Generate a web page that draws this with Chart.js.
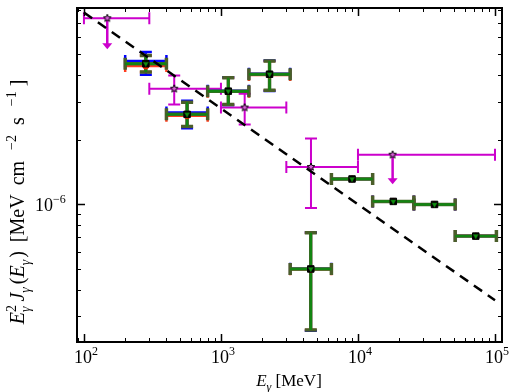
<!DOCTYPE html>
<html>
<head>
<meta charset="utf-8">
<script src="https://cdn.jsdelivr.net/npm/chart.js@4.4.0/dist/chart.umd.min.js"></script>
<style>
    body { margin: 0; background: #fff; }
    canvas { display: block; }
</style>
</head>
<body>
<canvas id="myChart" width="510" height="392"></canvas>
<script>
// energy bins [MeV]
const binLow = [200, 400, 800, 1600, 3200, 6400, 12800, 25600, 51200];
const binHigh = [400, 800, 1600, 3200, 6400, 12800, 25600, 51200, 102400];
const binCenter = [283, 566, 1131, 2263, 4525, 9051, 18102, 36204, 72408];

// square points, three overlapping analyses
const fluxGreen = [4.51e-6, 2.62e-6, 3.36e-6, 4.03e-6, 4.99e-7, 1.31e-6, 1.03e-6, 0.997e-6, 7.1e-7];
const fluxGreenLow = [4.13e-6, 2.30e-6, 2.91e-6, 3.39e-6, 2.59e-7, 1.31e-6, 1.03e-6, 0.997e-6, 7.1e-7];
const fluxGreenHigh = [4.93e-6, 2.98e-6, 3.88e-6, 4.65e-6, 7.36e-7, 1.31e-6, 1.03e-6, 0.997e-6, 7.1e-7];
const fluxBlue = [4.65e-6, 2.67e-6, 3.38e-6, 4.05e-6, 5.0e-7, 1.31e-6, 1.03e-6, 0.997e-6, 7.1e-7];
const fluxBlueLow = [4.01e-6, 2.26e-6, 2.90e-6, 3.37e-6, 2.57e-7, 1.31e-6, 1.03e-6, 0.997e-6, 7.1e-7];
const fluxBlueHigh = [5.11e-6, 3.03e-6, 3.90e-6, 4.67e-6, 7.38e-7, 1.31e-6, 1.03e-6, 0.997e-6, 7.1e-7];
const fluxRed = [4.40e-6, 2.58e-6, 3.34e-6, 4.0e-6, 4.97e-7, 1.31e-6, 1.03e-6, 0.997e-6, 7.1e-7];

// star points (magenta), two of them upper limits
const starE = [148, 456, 1490, 4540, 17900];
const starELow = [100, 300, 1000, 3000, 10000];
const starEHigh = [300, 1000, 3000, 10000, 100000];
const starFlux = [7.35e-6, 3.45e-6, 2.82e-6, 1.49e-6, 1.70e-6];
const starFluxLow = [null, 2.91e-6, 2.35e-6, 9.61e-7, null];
const starFluxHigh = [null, 3.98e-6, 3.27e-6, 2.02e-6, null];
const starArrowTo = [5.33e-6, null, null, null, 1.25e-6];

// dashed power law
const lineE = [100, 100000];
const lineFlux = [7.82e-6, 3.57e-7];

const FONT = '"Liberation Serif", "DejaVu Serif", serif';
const MAGENTA = '#cc00cc';

function makeStar(r) {
    const s = Math.ceil(r * 2 + 4);
    const c = document.createElement('canvas');
    c.width = s; c.height = s;
    const g = c.getContext('2d');
    g.beginPath();
    for (let k = 0; k < 10; k++) {
        const a = -Math.PI / 2 + k * Math.PI / 5;
        const rr = k % 2 ? r * 0.45 : r;
        g.lineTo(s / 2 + rr * Math.cos(a), s / 2 + rr * Math.sin(a));
    }
    g.closePath();
    g.fillStyle = '#d860d8';
    g.fill();
    g.strokeStyle = '#000';
    g.lineWidth = 1;
    g.stroke();
    return c;
}

function pts(xs, ys) {
    return xs.map((x, i) => ({x: x, y: ys[i]}));
}

function errBars(chart, xs, ys, xlo, xhi, ylo, yhi, color, lw, cap) {
    const ctx = chart.ctx, sx = chart.scales.x, sy = chart.scales.y;
    ctx.save();
    ctx.strokeStyle = color;
    ctx.lineWidth = lw;
    for (let i = 0; i < xs.length; i++) {
        const px = sx.getPixelForValue(xs[i]);
        const py = sy.getPixelForValue(ys[i]);
        ctx.beginPath();
        if (xlo && xlo[i] != null) {
            const x1 = sx.getPixelForValue(xlo[i]), x2 = sx.getPixelForValue(xhi[i]);
            ctx.moveTo(x1, py); ctx.lineTo(x2, py);
            if (cap) {
                ctx.moveTo(x1, py - cap); ctx.lineTo(x1, py + cap);
                ctx.moveTo(x2, py - cap); ctx.lineTo(x2, py + cap);
            }
        }
        if (ylo && ylo[i] != null && ylo[i] !== yhi[i]) {
            const y1 = sy.getPixelForValue(ylo[i]), y2 = sy.getPixelForValue(yhi[i]);
            ctx.moveTo(px, y1); ctx.lineTo(px, y2);
            if (cap) {
                ctx.moveTo(px - cap, y1); ctx.lineTo(px + cap, y1);
                ctx.moveTo(px - cap, y2); ctx.lineTo(px + cap, y2);
            }
        }
        ctx.stroke();
    }
    ctx.restore();
}

function arrows(chart) {
    const ctx = chart.ctx, sx = chart.scales.x, sy = chart.scales.y;
    ctx.save();
    ctx.strokeStyle = MAGENTA;
    ctx.fillStyle = MAGENTA;
    ctx.lineWidth = 2.5;
    starArrowTo.forEach((to, i) => {
        if (to == null) return;
        const px = sx.getPixelForValue(starE[i]);
        const y1 = sy.getPixelForValue(starFlux[i]);
        const y2 = sy.getPixelForValue(to);
        ctx.beginPath();
        ctx.moveTo(px, y1); ctx.lineTo(px, y2 - 4);
        ctx.stroke();
        ctx.beginPath();
        ctx.moveTo(px - 5, y2 - 5); ctx.lineTo(px + 5, y2 - 5); ctx.lineTo(px, y2 + 1);
        ctx.closePath();
        ctx.fill();
    });
    ctx.restore();
}

const errorBarPlugin = {
    id: 'errorBars',
    beforeDatasetsDraw(chart) {
        errBars(chart, starE, starFlux, starELow, starEHigh, starFluxLow, starFluxHigh, MAGENTA, 2, 6);
        arrows(chart);
        errBars(chart, binCenter, fluxRed, binLow, binHigh, fluxGreenLow, fluxGreenHigh, '#ff3c1e', 2.5, 6);
        errBars(chart, binCenter, fluxBlue, binLow, binHigh, fluxBlueLow, fluxBlueHigh, '#0000ff', 2.5, 6);
        errBars(chart, binCenter, fluxGreen, binLow, binHigh, fluxGreenLow, fluxGreenHigh, '#4b5e2a', 3.5, 6);
        errBars(chart, binCenter, fluxGreen, binLow, binHigh, fluxGreenLow, fluxGreenHigh, '#128512', 2.4, 0);
    }
};

function fontFor(p, size) {
    return (p.i ? 'italic ' : '') + size + 'px ' + FONT;
}

// draws text pieces with super/subscripts, centred on cx
function drawRich(ctx, parts, cx, baseline, size) {
    const small = Math.round(size * 0.68);
    let w = 0, stackStart = null, stackW = 0;
    const xs = [];
    for (const p of parts) {
        ctx.font = fontFor(p, p.s ? small : size);
        const pw = ctx.measureText(p.t).width + (p.gap || 0);
        if (p.stack) { stackStart = w; stackW = pw; xs.push(w); continue; }
        if (stackStart !== null) {
            xs.push(stackStart);
            w = stackStart + Math.max(stackW, pw);
            stackStart = null;
            continue;
        }
        xs.push(w);
        w += pw;
    }
    const x0 = cx - w / 2;
    parts.forEach((p, k) => {
        ctx.font = fontFor(p, p.s ? small : size);
        const dy = p.s === 'sup' ? -size * 0.42 : p.s === 'sub' ? size * 0.28 : 0;
        ctx.fillText(p.t, x0 + xs[k], baseline + dy);
    });
}

const framePlugin = {
    id: 'frame',
    afterDraw(chart) {
        const ctx = chart.ctx, a = chart.chartArea;
        const sx = chart.scales.x, sy = chart.scales.y;
        ctx.save();
        ctx.strokeStyle = '#000';
        ctx.fillStyle = '#000';
        // inward ticks on all sides
        for (let d = 1; d <= 5; d++) {
            for (let k = 1; k <= 9; k++) {
                const v = k * Math.pow(10, d);
                if (v < sx.min || v > sx.max) continue;
                const px = Math.round(sx.getPixelForValue(v)) + 0.5;
                const len = k === 1 ? 8 : 4;
                ctx.lineWidth = k === 1 ? 1.5 : 1;
                ctx.beginPath();
                ctx.moveTo(px, a.bottom); ctx.lineTo(px, a.bottom - len);
                ctx.moveTo(px, a.top); ctx.lineTo(px, a.top + len);
                ctx.stroke();
            }
        }
        for (let d = -8; d <= -5; d++) {
            for (let k = 1; k <= 9; k++) {
                const v = k * Math.pow(10, d);
                if (v < sy.min || v > sy.max) continue;
                const py = Math.round(sy.getPixelForValue(v)) + 0.5;
                const len = k === 1 ? 8 : 4;
                ctx.lineWidth = k === 1 ? 1.5 : 1;
                ctx.beginPath();
                ctx.moveTo(a.left, py); ctx.lineTo(a.left + len, py);
                ctx.moveTo(a.right, py); ctx.lineTo(a.right - len, py);
                ctx.stroke();
            }
        }
        ctx.lineWidth = 2;
        ctx.strokeRect(a.left, a.top, a.width, a.height);

        // tick labels
        ctx.textAlign = 'left';
        ctx.textBaseline = 'alphabetic';
        [2, 3, 4, 5].forEach(e => {
            const px = sx.getPixelForValue(Math.pow(10, e));
            drawRich(ctx, [{t: '10'}, {t: String(e), s: 'sup'}], px + 2, 363, 18);
        });
        const py = sy.getPixelForValue(1e-6);
        ctx.font = '18px ' + FONT;
        ctx.fillText('10', 35, py + 7);
        ctx.font = '12px ' + FONT;
        ctx.fillText('\u22126', 53, py - 1);

        // axis titles
        drawRich(ctx, [{t: 'E', i: 1}, {t: '\u03b3', s: 'sub', i: 1}, {t: ' [MeV]'}], 289, 386, 17);
        ctx.save();
        ctx.translate(24, 202);
        ctx.rotate(-Math.PI / 2);
        drawRich(ctx, [
            {t: 'E', i: 1}, {t: '2', s: 'sup', stack: true}, {t: '\u03b3', s: 'sub', i: 1, gap: 5},
            {t: 'J', i: 1}, {t: '\u03b3', s: 'sub', i: 1, gap: 3},
            {t: '('}, {t: 'E', i: 1}, {t: '\u03b3', s: 'sub', i: 1, gap: 2}, {t: ')', gap: 4},
            {t: ' [MeV', gap: 4}, {t: ' cm', gap: 4}, {t: '  \u22122', s: 'sup', gap: 5},
            {t: ' s', gap: 4}, {t: '  \u22121', s: 'sup', gap: 5}, {t: ']'}
        ], 0, 0, 20);
        ctx.restore();
        ctx.restore();
    }
};

const config = {
    type: 'scatter',
    data: {
        datasets: [
            {
                data: pts(lineE, lineFlux),
                showLine: true,
                borderColor: '#000',
                borderWidth: 2.5,
                borderDash: [10, 7],
                pointRadius: 0,
                order: 5
            },
            {
                data: pts(binCenter, fluxRed),
                pointStyle: 'circle',
                pointRadius: 3,
                backgroundColor: '#ff2a00',
                borderColor: '#ff2a00',
                order: 4
            },
            {
                data: pts(binCenter, fluxGreen),
                pointStyle: 'rect',
                pointRadius: 4.6,
                backgroundColor: '#000',
                borderColor: '#000',
                order: 2
            },
            {
                data: pts(binCenter, fluxGreen),
                pointStyle: 'triangle',
                rotation: 180,
                pointRadius: 3,
                backgroundColor: '#109010',
                borderColor: '#0a5a0a',
                borderWidth: 0.5,
                order: 1
            },
            {
                data: pts(starE, starFlux),
                pointStyle: makeStar(4),
                pointRadius: 5,
                order: 0
            }
        ]
    },
    options: {
        responsive: false,
        animation: false,
        devicePixelRatio: 1,
        layout: { padding: { top: 8, right: 8, left: 0, bottom: 0 } },
        plugins: {
            legend: { display: false },
            tooltip: { enabled: false }
        },
        scales: {
            x: {
                type: 'logarithmic',
                min: 89,
                max: 112500,
                ticks: { display: false },
                grid: { display: false },
                border: { display: false },
                afterFit: function(scale) { scale.height = 50; }
            },
            y: {
                type: 'logarithmic',
                min: 2.28e-7,
                max: 8.2e-6,
                ticks: { display: false },
                grid: { display: false },
                border: { display: false },
                afterFit: function(scale) { scale.width = 77; }
            }
        }
    },
    plugins: [errorBarPlugin, framePlugin]
};

const ctx = document.getElementById('myChart').getContext('2d');
new Chart(ctx, config);
</script>
</body>
</html>
